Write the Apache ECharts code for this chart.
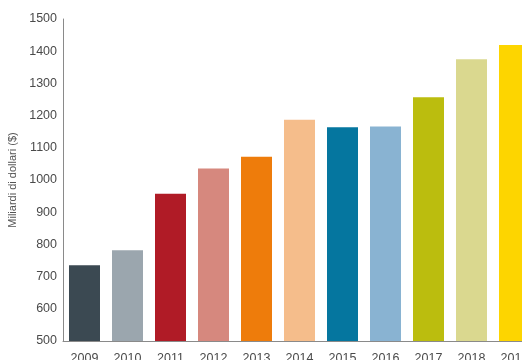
<!DOCTYPE html>
<html>
<head>
<meta charset="utf-8">
<script src="https://cdn.jsdelivr.net/npm/echarts@6/dist/echarts.min.js"></script>
<style>
  html, body { margin: 0; padding: 0; background: #fff; overflow: hidden; }
  #chart { width: 540px; height: 360px; }
</style>
</head>
<body>
<div id="chart"></div>
<script>
  // anni e valori (miliardi di dollari)
  const years = ["2009", "2010", "2011", "2012", "2013", "2014", "2015", "2016", "2017", "2018", "2019"];
  const values = [735, 782, 957, 1036, 1072, 1187, 1164, 1166, 1257, 1375, 1419];
  const barColors = [
    "#3b4952", "#9ba6ae", "#b01b26", "#d6887e", "#ee7c0b", "#f5bd8b",
    "#05769f", "#89b3d2", "#bbbd0e", "#dad88f", "#fdd500"
  ];
  const yTicks = { min: 500, max: 1500, step: 100 };

  // il grafico originale e' tagliato a destra e in basso: il contenitore e' piu' largo della finestra
  const chart = echarts.init(document.getElementById("chart"));
  const option = {
    animation: false,
    grid: {
      top: 19,
      bottom: 19,
      left: 63,
      right: 4,
      containLabel: false,
      outerBoundsMode: "none",
    },
    xAxis: {
      type: "category",
      data: years,
      axisLine: { lineStyle: { color: "#8a8a8a", width: 1 } },
      axisTick: { show: false },
      axisLabel: {
        color: "#4a4a4a",
        fontSize: 12.5,
        fontFamily: "Liberation Sans",
        margin: 11,
      },
    },
    yAxis: {
      type: "value",
      min: yTicks.min,
      max: yTicks.max,
      interval: yTicks.step,
      name: "Miliardi di dollari ($)",
      nameLocation: "middle",
      nameGap: 42,
      nameTextStyle: {
        color: "#555",
        fontSize: 11,
        fontFamily: "Liberation Sans",
      },
      axisLine: { show: true, lineStyle: { color: "#8a8a8a", width: 1 } },
      axisTick: { show: false },
      splitLine: { show: false },
      axisLabel: {
        color: "#4a4a4a",
        fontSize: 12.5,
        fontFamily: "Liberation Sans",
        margin: 6,
        formatter: (v) => String(v),
      },
    },
    series: [
      {
        type: "bar",
        barWidth: 31,
        data: values.map((v, i) => ({
          value: v,
          itemStyle: { color: barColors[i] },
        })),
      },
    ],
  };
  chart.setOption(option);
</script>
</body>
</html>
